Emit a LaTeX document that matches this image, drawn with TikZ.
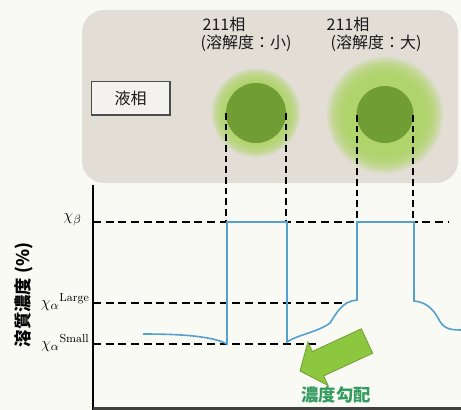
\documentclass[tikz,border=0pt]{standalone}
\usepackage{fontspec}
\newfontfamily\cjk{Noto Sans CJK JP}

\definecolor{paper}{RGB}{250,250,245}
\definecolor{liquidgray}{RGB}{226,222,214}
\definecolor{grain}{RGB}{112,158,52}
\definecolor{halogreen}{RGB}{172,212,98}
\definecolor{profileblue}{RGB}{84,160,208}
\definecolor{arrowgreen}{RGB}{141,198,63}
\definecolor{gradtext}{RGB}{52,155,95}

\tikzset{every picture/.style={line width=0.75pt}}
\tikzset{
  halo/.style={fill=halogreen, fill opacity=#1},
  dashvert/.style={line width=1.3, dash pattern=on 5pt off 3pt},
  dashhor/.style={line width=1.6, dash pattern=on 6pt off 3.5pt},
  profile/.style={draw=profileblue, line width=1.2},
  gradarrow/.style={fill=arrowgreen, draw=arrowgreen!80!black, line width=0.6, line join=miter},
  cjklabel/.style={font=\cjk\fontsize{12}{14}\selectfont, text=black!90},
  chilabel/.style={font=\fontsize{12.5}{14}\selectfont, anchor=east, inner sep=0pt}
}

\begin{document}
\begin{tikzpicture}[x=0.75pt,y=0.75pt,yscale=-1,xscale=1]
	\useasboundingbox (0,0) rectangle (461,410);
	\fill [paper] (0,0) rectangle (461,410);

	%Shape: Rounded Rect
	\fill [liquidgray, rounded corners=16.5] (82,10) rectangle (458,183);

	%Shape: Circle (soft rims, stacked rings)
	\foreach \r in {32,34,...,44}
		\fill [halo=0.25] (256,113) circle [radius=\r];
	\foreach \r in {40,42,...,58}
		\fill [halo=0.2] (385,115) circle [radius=\r];
	\fill [grain] (256,113) circle [radius=30];
	\fill [grain] (385,114.5) circle [radius=28.5];

	%Straight Lines
	\draw [dashvert] (226,113) -- (226,222);
	\draw [dashvert] (286,113) -- (286,222);
	\draw [dashvert] (357,115) -- (357,222);
	\draw [dashvert] (413,115) -- (413,222);

	%Straight Lines
	\draw [dashhor] (93,222) -- (448,222);
	\draw [dashhor] (93,303) -- (347,303);
	\draw [dashhor] (93,344) -- (318,344);

	%Curve Lines
	\draw [profile] (143,334) .. controls (180,334) and (212,336) .. (227,344) -- (227,222) -- (287,222) -- (287,342)
		.. controls (297,335) and (318,332) .. (330,323) .. controls (336,314) and (342,301) .. (357,300) -- (357,222) -- (414,222) -- (414,301)
		.. controls (426,302) and (433,309) .. (438,318) .. controls (443,328) and (448,330) .. (461,330);

	%Straight Lines
	\draw [line width=2.2] (93,185) -- (93,410);
	\draw [line width=2, black!75] (93,408.6) -- (461,408.6);

	%Shape: Arrow
	\draw [gradarrow] (372.7,353.2) -- (323.7,375.9) -- (328.1,385.5) -- (300,371) -- (307.9,341.9) -- (312.3,351.5) -- (361.3,328.8) -- cycle;

	% Text Node
	\draw (224,24) node [cjklabel] (solA) {211相};
	% Text Node
	\draw (246,43) node [cjklabel] (solAnote) {(溶解度：小)};
	% Text Node
	\draw (348,24) node [cjklabel] (solB) {211相};
	% Text Node
	\draw (376,43) node [cjklabel] (solBnote) {(溶解度：大)};
	% Text Node
	\draw (130.5,98.5) node [cjklabel, draw=black!70, line width=1, fill=white!60!liquidgray, minimum width=59, minimum height=25, inner sep=0] (liquid) {液相};

	% Text Node
	\draw (82,220) node [chilabel] (chiB) {$\chi_\beta$};
	% Text Node
	\draw (90,302) node [chilabel] (chiL) {$\chi_\alpha{}^{\mathrm{Large}}$};
	% Text Node
	\draw (90,343) node [chilabel] (chiS) {$\chi_\alpha{}^{\mathrm{Small}}$};
	% Text Node
	\draw (24,295) node [rotate=90, font=\cjk\bfseries\fontsize{13}{15}\selectfont] (conc) {溶質濃度 (\%)};
	% Text Node
	\draw (336,395) node [font=\cjk\bfseries\fontsize{13}{15}\selectfont, text=gradtext] (grad) {濃度勾配};

\end{tikzpicture}
\end{document}
